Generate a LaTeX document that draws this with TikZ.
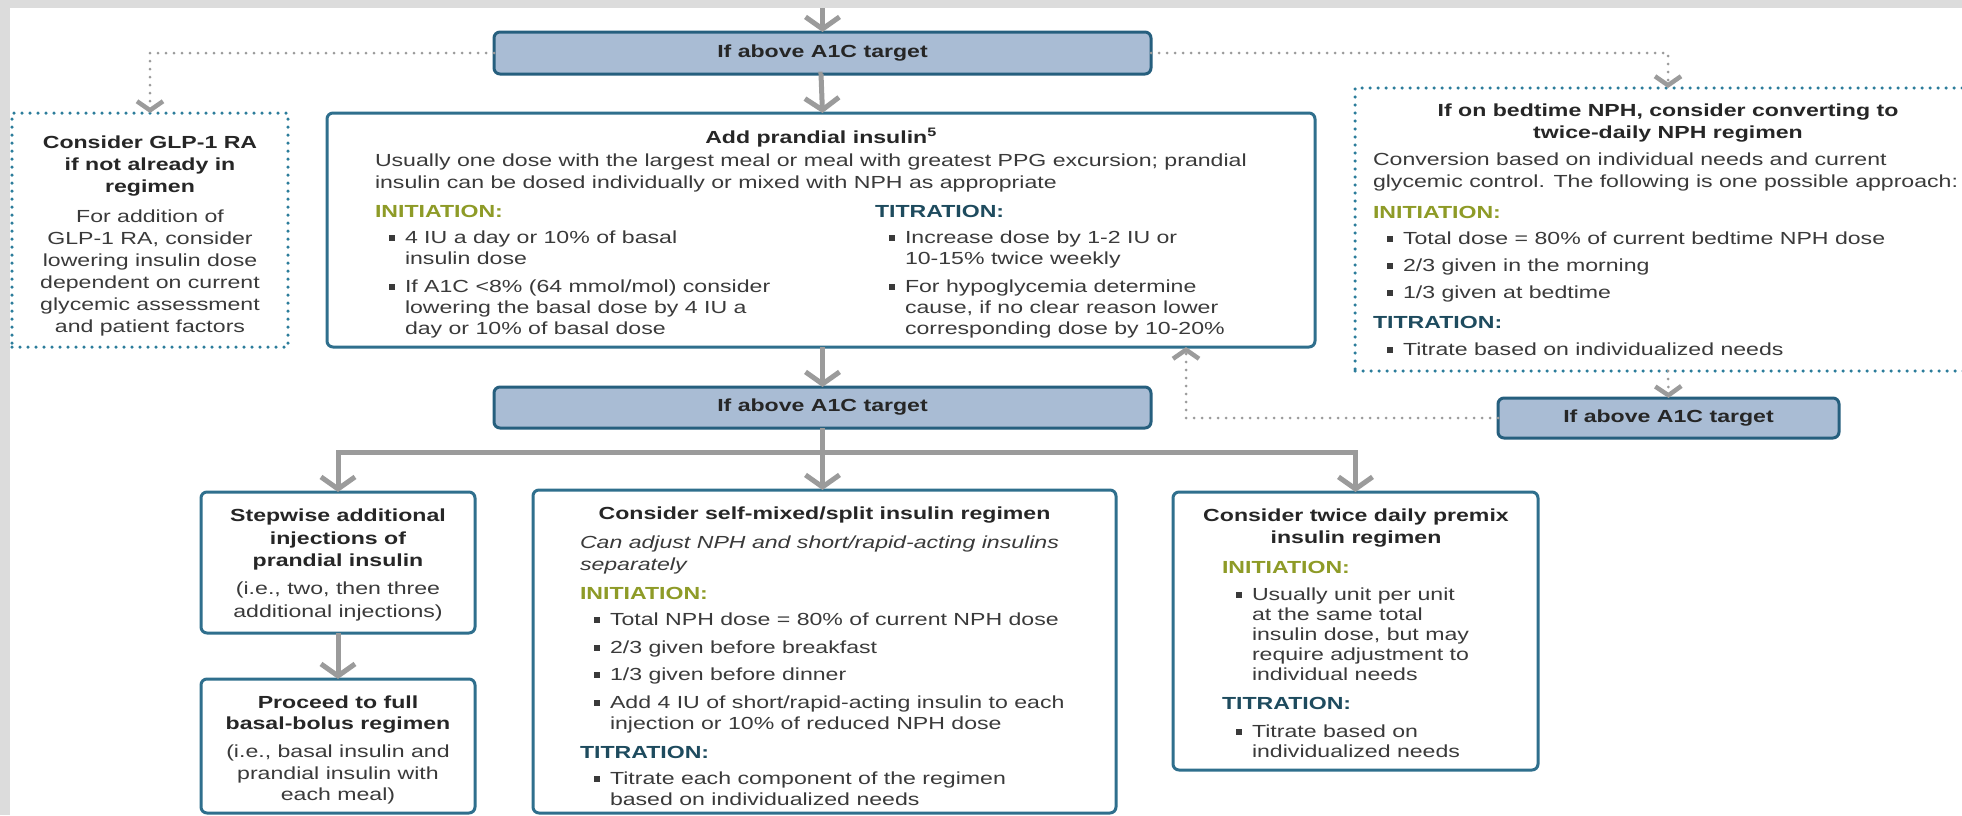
\documentclass[tikz,border=0pt]{standalone}
\usepackage{fontspec}
\setmainfont{Liberation Sans}[FakeStretch=1.32]
\usetikzlibrary{arrows.meta,calc}

\definecolor{framegray}{HTML}{DCDCDC}
\definecolor{cgray}{HTML}{9B9B9B}
\definecolor{boxfill}{HTML}{A9BCD4}
\definecolor{boxline}{HTML}{265F7E}
\definecolor{solidline}{HTML}{2F6F8D}
\definecolor{dotline}{HTML}{2C7D9B}
\definecolor{txt}{HTML}{3A3A3A}
\definecolor{head}{HTML}{262626}
\definecolor{initc}{HTML}{8E9B27}
\definecolor{titc}{HTML}{1E4B5E}

% square bullet and hanging indent for list items
\newcommand\sqbul{\hspace*{14pt}\makebox[16pt][l]{\textcolor{txt}{\rule[2.5pt]{6pt}{6pt}}}}
\newcommand\subind{\hspace*{30pt}}
\newcommand\initlbl{\textcolor{initc}{\textbf{INITIATION:}}}
\newcommand\titlbl{\textcolor{titc}{\textbf{TITRATION:}}}

\begin{document}
\begin{tikzpicture}[x=1pt,y=-1pt,
  every node/.style={inner sep=0pt,outer sep=0pt},
  fs/.style={font=\fontsize{17.5}{#1}\selectfont},
  fs/.default=21.5,
  bodytext/.style={text=txt,align=left,anchor=north west},
  ctext/.style={text=txt,align=center,anchor=north},
  shadebox/.style={draw=boxline,fill=boxfill,line width=3pt,rounded corners=6pt,
    text=head,font=\bfseries\fontsize{17.5}{21.5}\selectfont},
  solidbox/.style={draw=solidline,fill=white,line width=3pt,rounded corners=6pt},
  dotbox/.style={draw=dotline,line width=3.5pt,dash pattern=on 0pt off 8pt,line cap=round},
  conn/.style={draw=cgray,line width=5pt,-{Straight Barb[length=12pt,width=34pt]}},
  gline/.style={draw=cgray,line width=5pt},
  dotconn/.style={draw=cgray,line width=3pt,dash pattern=on 0pt off 8pt,line cap=round,
    -{Straight Barb[length=9pt,width=26pt,line width=4.5pt]}}
]
\useasboundingbox (0,0) rectangle (1962,815);
\fill[white] (0,0) rectangle (1962,815);
\begin{scope}
\clip (0,0) rectangle (1962,815);

% frame strips
\fill[framegray] (0,0) rectangle (1962,8);
\fill[framegray] (0,0) rectangle (10,815);

% decision boxes
\node[shadebox,minimum width=657pt,minimum height=42pt] (boxA) at (822.5,53) {If above A1C target};
\node[shadebox,minimum width=657pt,minimum height=41pt] (boxB) at (822.5,407.5) {If above A1C target};
\node[shadebox,minimum width=341pt,minimum height=40pt] (boxC) at (1668.5,418) {If above A1C target};

% content boxes
\node[dotbox,minimum width=276pt,minimum height=234pt] (glp) at (150,230) {};
\node[solidbox,minimum width=988pt,minimum height=234pt] (prand) at (821,230) {};
\node[dotbox,minimum width=626pt,minimum height=283pt] (nph) at (1668,229.5) {};
\node[solidbox,minimum width=274pt,minimum height=141pt] (stepw) at (338,562.5) {};
\node[solidbox,minimum width=274pt,minimum height=134pt] (proc) at (338,746) {};
\node[solidbox,minimum width=583pt,minimum height=323pt] (mid) at (824.5,651.5) {};
\node[solidbox,minimum width=365pt,minimum height=278pt] (premix) at (1355.5,631) {};

% GLP-1 RA box text
\node[ctext,fs=22] (glptext) at (150,133) {\strut\textcolor{head}{\textbf{Consider GLP-1 RA}}\\
  \textcolor{head}{\textbf{if not already in}}\\
  \textcolor{head}{\textbf{regimen}}\\[8.5pt]
  For addition of\\ GLP-1 RA, consider\\ lowering insulin dose\\
  dependent on current\\ glycemic assessment\\ and patient factors};

% prandial insulin box text
\node[fs,text=head,anchor=base] (prtitle) at (821,143) {\textbf{Add prandial insulin\textsuperscript{5}}};
\node[bodytext,fs=22] (printro) at (375,151) {\strut Usually one dose with the largest meal or meal with greatest PPG excursion; prandial\\
  insulin can be dosed individually or mixed with NPH as appropriate};
\node[fs,anchor=base west] (prinit) at (375,217) {\initlbl};
\node[fs,anchor=base west] (prtit) at (875,217) {\titlbl};
\node[bodytext,fs=21] (prleft) at (375,229) {\strut\sqbul 4 IU a day or 10\% of basal\\
  \subind insulin dose\\[7pt]
  \sqbul If A1C <8\% (64 mmol/mol) consider\\
  \subind lowering the basal dose by 4 IU a\\
  \subind day or 10\% of basal dose};
\node[bodytext,fs=21] (prright) at (875,229) {\strut\sqbul Increase dose by 1-2 IU or\\
  \subind 10-15\% twice weekly\\[7pt]
  \sqbul For hypoglycemia determine\\
  \subind cause, if no clear reason lower\\
  \subind corresponding dose by 10-20\%};

% bedtime NPH box text
\node[ctext,fs=22,text=head] (nphtitle) at (1668,101) {\strut\textbf{If on bedtime NPH, consider converting to}\\
  \textbf{twice-daily NPH regimen}};
\node[bodytext,fs=22] (nphintro) at (1373,150) {\strut Conversion based on individual needs and current\\
  glycemic control. The following is one possible approach:};
\node[fs,anchor=base west] (nphinit) at (1373,218) {\initlbl};
\node[bodytext,fs] (nphbul) at (1373,229) {\strut\sqbul Total dose = 80\% of current bedtime NPH dose\\[5.5pt]
  \sqbul 2/3 given in the morning\\[5.5pt]
  \sqbul 1/3 given at bedtime};
\node[fs,anchor=base west] (nphtit) at (1373,328) {\titlbl};
\node[bodytext,fs] (nphtbul) at (1373,340) {\strut\sqbul Titrate based on individualized needs};

% stepwise and basal-bolus boxes text
\node[ctext,fs=22.5] (steptext) at (338,506) {\strut\textcolor{head}{\textbf{Stepwise additional}}\\
  \textcolor{head}{\textbf{injections of}}\\
  \textcolor{head}{\textbf{prandial insulin}}\\[5.5pt]
  (i.e., two, then three\\ additional injections)};
\node[ctext,fs] (proctext) at (338,693) {\strut\textcolor{head}{\textbf{Proceed to full}}\\
  \textcolor{head}{\textbf{basal-bolus regimen}}\\[6.5pt]
  (i.e., basal insulin and\\ prandial insulin with\\ each meal)};

% self-mixed/split box text
\node[fs,text=head,anchor=base] (midtitle) at (824.5,519) {\textbf{Consider self-mixed/split insulin regimen}};
\node[bodytext,fs=22] (midintro) at (580,533) {\strut\textit{Can adjust NPH and short/rapid-acting insulins}\\
  \textit{separately}};
\node[fs,anchor=base west] (midinit) at (580,599) {\initlbl};
\node[bodytext,fs=21] (midbul) at (580,611) {\strut\sqbul Total NPH dose = 80\% of current NPH dose\\[6.5pt]
  \sqbul 2/3 given before breakfast\\[6.5pt]
  \sqbul 1/3 given before dinner\\[6.5pt]
  \sqbul Add 4 IU of short/rapid-acting insulin to each\\
  \subind injection or 10\% of reduced NPH dose};
\node[fs,anchor=base west] (midtit) at (580,758) {\titlbl};
\node[bodytext,fs=21] (midtbul) at (580,770) {\strut\sqbul Titrate each component of the regimen\\
  \subind based on individualized needs};

% premix box text
\node[ctext,fs=22,text=head] (pmtitle) at (1356,506) {\strut\textbf{Consider twice daily premix}\\
  \textbf{insulin regimen}};
\node[fs,anchor=base west] (pminit) at (1222,573) {\initlbl};
\node[bodytext,fs=20] (pmbul) at (1222,586) {\strut\sqbul Usually unit per unit\\
  \subind at the same total\\
  \subind insulin dose, but may\\
  \subind require adjustment to\\
  \subind individual needs};
\node[fs,anchor=base west] (pmtit) at (1222,709) {\titlbl};
\node[bodytext,fs=20] (pmtbul) at (1222,723) {\strut\sqbul Titrate based on\\
  \subind individualized needs};

% solid connectors
\coordinate (topin) at (822.5,8);
\coordinate (jn) at (822.5,452);
\draw[conn] (topin) -- (boxA.north);
\draw[conn] (boxA.south) -- (prand.south |- boxA.south) -- (boxA.south |- prand.north);
\draw[conn] (boxA.south |- prand.south) -- (boxB.north);
\draw[conn] (boxB.south) -- (jn |- mid.north);
\draw[conn] (jn) -| (stepw.north);
\draw[conn] (jn) -| (premix.north);
\draw[conn] (stepw.south) -- (proc.north);

% dotted connectors
\draw[dotconn] (boxA.west) -| (glp.north);
\draw[dotconn] (boxA.east) -| (nph.north);
\draw[dotconn] (nph.south) -- (boxC.north);
\draw[dotconn] (boxC.west) -| ($(prand.south east)+(-129,0)$);
\end{scope}
\end{tikzpicture}
\end{document}
